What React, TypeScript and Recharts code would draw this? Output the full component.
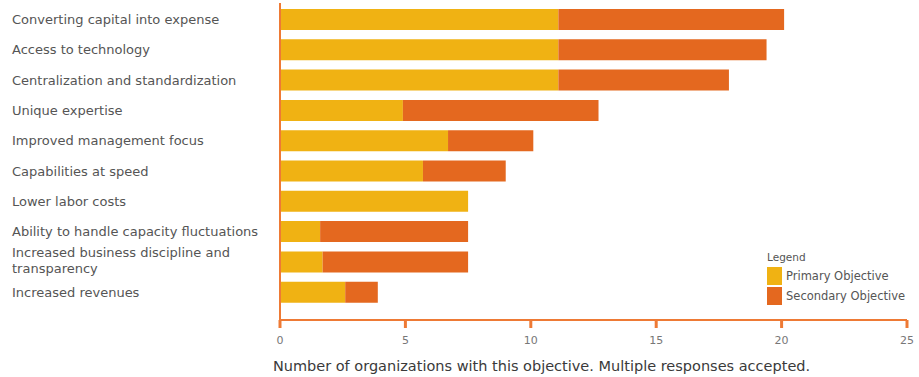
import React from "react";
import { BarChart, Bar, XAxis, YAxis, Legend } from "recharts";

const categories = [
  "Converting capital into expense",
  "Access to technology",
  "Centralization and standardization",
  "Unique expertise",
  "Improved management focus",
  "Capabilities at speed",
  "Lower labor costs",
  "Ability to handle capacity fluctuations",
  "Increased business discipline and\ntransparency",
  "Increased revenues",
];
const primaryValues = [11.1, 11.1, 11.1, 4.9, 6.7, 5.7, 7.5, 1.6, 1.7, 2.6];
const secondaryValues = [9.0, 8.3, 6.8, 7.8, 3.4, 3.3, 0, 5.9, 5.8, 1.3];
const xTicks = [0, 5, 10, 15, 20, 25];
const seriesNames = ["Primary Objective", "Secondary Objective"];

const PRIMARY = "#F0B213";
const SECONDARY = "#E4681F";
const AXIS = "#EE7A35";
const FONT = "'DejaVu Sans', sans-serif";

const data = categories.map((c, i) => ({
  name: c,
  primary: primaryValues[i],
  secondary: secondaryValues[i],
}));

const YTick = (props: any) => {
  const { y, payload } = props;
  const lines = String(payload.value).split("\n");
  const lh = 16;
  const start = y - ((lines.length - 1) * lh) / 2 - (lines.length > 1 ? 2 : 0);
  return (
    <text x={12} y={start} fill="#555" fontSize={13} fontFamily={FONT} textAnchor="start" dominantBaseline="central">
      {lines.map((l, i) => (
        <tspan key={i} x={12} y={start + i * lh}>
          {l}
        </tspan>
      ))}
    </text>
  );
};

const XTick = (props: any) => {
  const { x, y, payload } = props;
  return (
    <text x={x} y={y + 10} fill="#777" fontSize={11} fontFamily={FONT} textAnchor="middle" dominantBaseline="central">
      {payload.value}
    </text>
  );
};

const LegendContent = () => (
  <div style={{ fontFamily: FONT, fontSize: 11.5, color: "#555", lineHeight: "14px" }}>
    <div style={{ marginBottom: 2, fontSize: 10.5 }}>Legend</div>
    {seriesNames.map((n, i) => (
      <div key={n} style={{ display: "flex", alignItems: "center", height: 20 }}>
        <span style={{ width: 15, height: 18, background: i === 0 ? PRIMARY : SECONDARY, marginRight: 4, display: "inline-block" }} />
        <span>{n}</span>
      </div>
    ))}
  </div>
);

const XLabel = (props: any) => {
  const { viewBox } = props;
  return (
    <text
      x={viewBox.x + viewBox.width / 2 - 52}
      y={viewBox.y + 51}
      textAnchor="middle"
      fill="#3a3a3a"
      fontSize={14.5}
      fontFamily={FONT}
    >
      Number of organizations with this objective. Multiple responses accepted.
    </text>
  );
};

export default function App() {
  return (
    <div style={{ position: "absolute", left: 0, top: 0, background: "#fff" }}>
      <BarChart
        width={919}
        height={377}
        data={data}
        layout="vertical"
        margin={{ top: 3, right: 12, bottom: 0, left: 0 }}
        barSize={21}
      >
        <XAxis
          type="number"
          domain={[0, 25]}
          ticks={xTicks}
          axisLine={{ stroke: AXIS, strokeWidth: 2 }}
          tickLine={{ stroke: AXIS, strokeWidth: 3 }}
          tickSize={8}
          tick={<XTick />}
          height={57}
          label={<XLabel />}
        />
        <YAxis
          type="category"
          dataKey="name"
          width={280}
          axisLine={{ stroke: AXIS, strokeWidth: 2 }}
          tickLine={false}
          tick={<YTick />}
          padding={{ top: 1, bottom: 13 }}
          interval={0}
        />
        <Legend
          layout="horizontal"
          verticalAlign="middle"
          align="center"
          content={<LegendContent />}
          wrapperStyle={{ position: "absolute", left: 767, top: 250, width: 150 }}
        />
        <Bar dataKey="primary" stackId="a" fill={PRIMARY} isAnimationActive={false} name={seriesNames[0]} />
        <Bar dataKey="secondary" stackId="a" fill={SECONDARY} isAnimationActive={false} name={seriesNames[1]} />
      </BarChart>
    </div>
  );
}
